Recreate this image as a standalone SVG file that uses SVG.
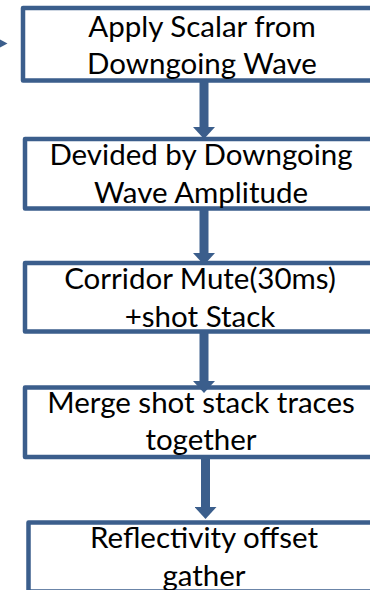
<svg xmlns="http://www.w3.org/2000/svg" width="370" height="590" viewBox="0 0 370 590">
  <style>
    .box { fill: #ffffff; stroke: #3B5E8C; stroke-width: 4.5; stroke-linejoin: round; }
    .lbl { font-family: Lato, "Open Sans", sans-serif; font-size: 29.5px; fill: #000000; text-anchor: middle; }
    .conn { stroke: #3B5E8C; stroke-width: 9; fill: none; }
  </style>
  <defs>
    <marker id="head" viewBox="0 0 12 22" markerWidth="12" markerHeight="22" refX="0" refY="11" orient="auto" markerUnits="userSpaceOnUse">
      <path d="M0,0 L12,11 L0,22 Z" fill="#3B5E8C"/>
    </marker>
  </defs>
  <rect width="370" height="590" fill="#ffffff"/>
  <g id="node1">
    <rect class="box" x="23" y="8" width="362" height="72.5"/>
    <text class="lbl" x="202" y="37">Apply Scalar from</text>
    <text class="lbl" x="202" y="74">Downgoing Wave</text>
  </g>
  <g id="node2">
    <rect class="box" x="25" y="139" width="362" height="69.5"/>
    <text class="lbl" x="201" y="165">Devided by Downgoing</text>
    <text class="lbl" x="201" y="203">Wave Amplitude</text>
  </g>
  <g id="node3">
    <rect class="box" x="25" y="263" width="362" height="68.5"/>
    <text class="lbl" x="200" y="289">Corridor Mute(30ms)</text>
    <text class="lbl" x="200" y="327">+shot Stack</text>
  </g>
  <g id="node4">
    <rect class="box" x="25" y="387.5" width="362" height="69.5"/>
    <text class="lbl" x="201" y="413">Merge shot stack traces</text>
    <text class="lbl" x="201" y="450">together</text>
  </g>
  <g id="node5">
    <rect class="box" x="28.5" y="522.5" width="362" height="69"/>
    <text class="lbl" x="204" y="548">Reflectivity offset</text>
    <text class="lbl" x="204" y="586">gather</text>
  </g>
  <g id="connectors">
    <path d="M-1,39 L7.5,43.5 L-1,48 Z" fill="#3B5E8C"/>
    <line class="conn" x1="204" y1="79" x2="204" y2="127" marker-end="url(#head)"/>
    <line class="conn" x1="204" y1="207" x2="204" y2="253" marker-end="url(#head)"/>
    <line class="conn" x1="204" y1="330" x2="204" y2="381" marker-end="url(#head)"/>
    <line class="conn" x1="205.5" y1="456" x2="205.5" y2="507" marker-end="url(#head)"/>
  </g>
</svg>
